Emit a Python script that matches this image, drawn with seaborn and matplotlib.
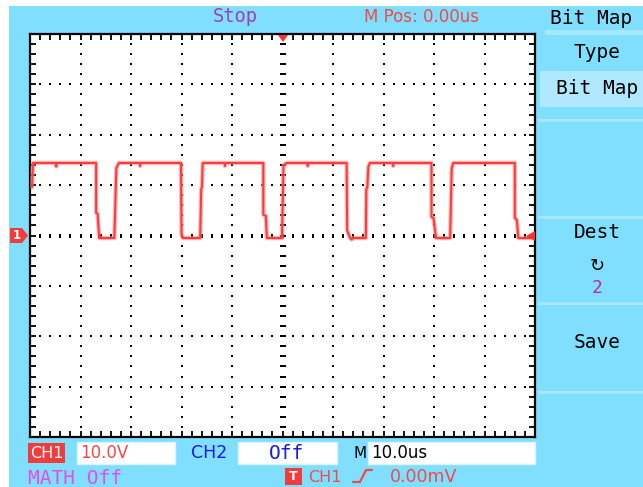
import numpy as np
import pandas as pd
import matplotlib
matplotlib.use("Agg")
import matplotlib.pyplot as plt
import seaborn as sns
from matplotlib.patches import Rectangle, Polygon
from matplotlib.ticker import MultipleLocator
from matplotlib.lines import Line2D

time_us = [-49.6, -49.4, -44.9, -44.8, -44.7, -36.9, -36.9, -36.6, -36.3,
           -33.3, -32.9, -32.4, -28.3, -28.2, -28.1, -20.1, -20.0, -19.7,
           -16.3, -16.1, -15.95, -15.8, -11.5, -11.4, -11.3, -3.8, -3.8, -3.3, -3.1,
           -0.1, 0.2, 0.8, 4.9, 5.0, 5.1, 12.7, 12.8, 13.4, 13.7, 13.9,
           16.5, 16.6, 16.8, 17.0, 17.3, 21.8, 21.9, 22.0, 29.5, 29.5, 29.9, 30.4,
           33.2, 33.5, 33.8, 46.0, 46.0, 46.4, 46.7, 50.0]
volts = [9.6, 14.4, 14.4, 13.7, 14.4, 14.4, 4.5, 4.3, -0.5,
         -0.5, 13.4, 14.4, 14.4, 13.8, 14.4, 14.4, 0.2, -0.5,
         -0.5, 9.2, 9.6, 14.4, 14.4, 13.8, 14.4, 14.4, 4.1, 3.9, -0.5,
         -0.5, 13.9, 14.4, 14.4, 13.8, 14.4, 14.4, 1.0, -0.5, -0.8, -0.5,
         -0.5, 9.2, 9.6, 13.6, 14.4, 14.4, 13.8, 14.4, 14.4, 3.7, 3.5, -0.5,
         -0.5, 13.2, 14.4, 14.4, 3.5, 3.1, -0.5, -0.5]

status_text = "Stop"
mpos_text = "M Pos: 0.00us"
menu_title = "Bit Map"
menu_labels = ["Type", "Bit Map", "Dest", "Save"]
dest_value = "2"
ch1_label = "CH1"
ch1_scale = "10.0V"
ch2_label = "CH2"
ch2_state = "Off"
timebase_label = "M"
timebase = "10.0us"
math_state = "MATH Off"
trig_src = "CH1"
trig_level = "0.00mV"

# ---------------- style ----------------
W, H = 643, 487
sns.set_style("white")
plt.rcParams['font.family'] = ['DejaVu Sans']
MONO = ['DejaVu Sans Mono']

CYAN = '#80dfff'
LIGHT = '#b0e9ff'
SEP = '#a6e6ff'
RED = '#f24848'
TRACE = '#ff3c3c'
BLUE = '#1a1ae6'
MAG = '#e64ee6'
PURP = '#a040b0'

fig = plt.figure(figsize=(W / 100, H / 100), dpi=100)
fig.patch.set_facecolor('white')

# background overlay in pixel coordinates
bg = fig.add_axes([0, 0, 1, 1], zorder=0)
bg.set_xlim(0, W)
bg.set_ylim(H, 0)
bg.axis('off')
bg.add_patch(Rectangle((9, 6), W - 9, H - 6, color=CYAN, lw=0))

# side panel
bg.add_patch(Rectangle((545, 30), W - 545, 5, color=SEP, lw=0))
bg.add_patch(Rectangle((540, 71), W - 540, 36, color=LIGHT, lw=0))
for yy in [120, 217, 303, 392]:
    bg.add_patch(Rectangle((538, yy - 1), W - 538, 2.5, color=SEP, lw=0))

fs_menu = 14
bg.text(591, 18, menu_title, fontsize=14, family=MONO, color='black', ha='center', va='center')
bg.text(597, 52, menu_labels[0], fontsize=fs_menu, family=MONO, color='black', ha='center', va='center')
bg.text(597, 89, menu_labels[1], fontsize=fs_menu, family=MONO, color='black', ha='center', va='center')
bg.text(597, 232, menu_labels[2], fontsize=fs_menu, family=MONO, color='black', ha='center', va='center')
bg.text(597, 266, "\u21bb", fontsize=13, color='black', ha='center', va='center')
bg.text(597, 288, dest_value, fontsize=13, family=MONO, color='#c03090', ha='center', va='center')
bg.text(597, 342, menu_labels[3], fontsize=fs_menu, family=MONO, color='black', ha='center', va='center')

# top status row
bg.text(235, 17, status_text, fontsize=13.5, family=MONO, color=PURP, ha='center', va='center')
bg.text(422, 17, mpos_text, fontsize=12, color=RED, ha='center', va='center')

# bottom row 1
bg.add_patch(Rectangle((28, 443), 37, 20, color='#f03c3c', lw=0))
bg.text(46.5, 453.5, ch1_label, fontsize=11.5, color='white', ha='center', va='center')
for (x0, x1) in [(77, 175), (238, 337), (368, 535)]:
    bg.add_patch(Rectangle((x0, 442), x1 - x0, 22, facecolor='white', edgecolor='#d8f4ff', lw=1))
bg.text(80, 453.5, ch1_scale, fontsize=12, color=RED, ha='left', va='center')
bg.text(209.5, 453.5, ch2_label, fontsize=12.5, color=BLUE, ha='center', va='center')
bg.text(286, 453.5, ch2_state, fontsize=14, family=MONO, color=BLUE, ha='center', va='center')
bg.text(360, 453.5, timebase_label, fontsize=11, color='black', ha='center', va='center')
bg.text(371, 453.5, timebase, fontsize=12, color='black', ha='left', va='center')

# bottom row 2
bg.text(28, 478, math_state, fontsize=14, family=MONO, color=MAG, ha='left', va='center')
bg.add_patch(Rectangle((285, 468), 17, 17, color='#f03c3c', lw=0))
bg.text(293.5, 476.5, "T", fontsize=9, color='white', ha='center', va='center', fontweight='bold')
bg.text(308, 477, trig_src, fontsize=11.5, color=RED, ha='left', va='center')
bg.add_line(Line2D([353, 360, 366, 372], [482, 482, 470, 470], color=RED, lw=1.6))
bg.text(390, 477, trig_level, fontsize=12.5, color=RED, ha='left', va='center')

# channel 1 ground marker
bg.add_patch(Polygon([(10, 228), (22, 228), (28, 235.5), (22, 243), (10, 243)],
                     closed=True, color='#f03c3c', lw=0))
bg.text(16.5, 235.5, "1", fontsize=8.5, color='white', ha='center', va='center', fontweight='bold')

# ---------------- main screen ----------------
L, T, R, B = 30, 34, 535, 437
ax = fig.add_axes([L / W, 1 - B / H, (R - L) / W, (B - T) / H], zorder=2)
ax.set_facecolor('white')
ax.set_xlim(-50, 50)
ax.set_ylim(-40, 40)

# dotted graticule
for gx in range(-40, 41, 10):
    if gx == 0:
        continue
    ys = np.arange(-38, 39, 2)
    ax.plot(np.full(len(ys), gx), ys, ls='none', marker='s', ms=1.5, mew=0, color='black', zorder=1)
for gy in range(-30, 31, 10):
    if gy == 0:
        continue
    xs = np.arange(-48, 49, 2)
    ax.plot(xs, np.full(len(xs), gy), ls='none', marker='s', ms=1.5, mew=0, color='black', zorder=1)
# centre cross with tick marks
xs = np.arange(-48, 49, 2)
ax.plot(xs, np.zeros(len(xs)), ls='none', marker='|', ms=3.5, mew=1.4, color='black', zorder=1)
ys = np.arange(-38, 39, 2)
ax.plot(np.zeros(len(ys)), ys, ls='none', marker='_', ms=4.5, mew=1.4, color='black', zorder=1)

# trace (soft halo + core)
df = pd.DataFrame({'t': time_us, 'v': volts})
sns.lineplot(data=df, x='t', y='v', ax=ax, sort=False, estimator=None,
             color='#ff8080', lw=3.2, alpha=0.55, zorder=4)
sns.lineplot(data=df, x='t', y='v', ax=ax, sort=False, estimator=None,
             color=TRACE, lw=1.5, zorder=5)
ax.set_xlim(-50, 50)
ax.set_ylim(-40, 40)
ax.set_xlabel('')
ax.set_ylabel('')

ax.xaxis.set_major_locator(MultipleLocator(2))
ax.yaxis.set_major_locator(MultipleLocator(2))
ax.tick_params(which='both', direction='in', length=4.5, width=1.3, color='black',
               top=True, right=True, bottom=True, left=True,
               labelbottom=False, labelleft=False)
for s in ax.spines.values():
    s.set_visible(True)
    s.set_color('black')
    s.set_linewidth(1.6)

# overlay markers (trigger position / level)
fg = fig.add_axes([0, 0, 1, 1], zorder=10)
fg.set_xlim(0, W)
fg.set_ylim(H, 0)
fg.axis('off')
fg.patch.set_alpha(0)
fg.add_patch(Polygon([(278, 35), (288, 35), (283, 42)], closed=True, color='#ff3030', lw=0))
fg.add_patch(Polygon([(526, 236), (535, 231), (535, 241)], closed=True, color='#ff3030', lw=0))

fig.savefig('out.png', dpi=100, facecolor=fig.get_facecolor())
